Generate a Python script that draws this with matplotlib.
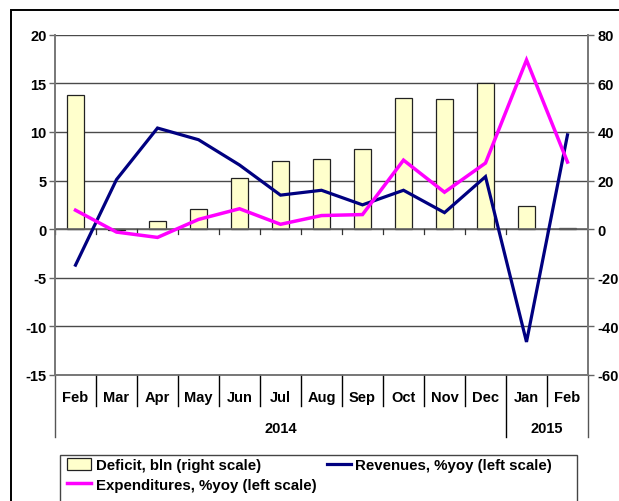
import matplotlib
matplotlib.use("Agg")
import matplotlib.pyplot as plt
import matplotlib.transforms as mtransforms
from matplotlib.patches import Rectangle
from matplotlib.lines import Line2D

plt.rcParams['font.family'] = ['Liberation Sans', 'DejaVu Sans']
plt.rcParams['font.weight'] = 'bold'

months = ["Feb", "Mar", "Apr", "May", "Jun", "Jul", "Aug", "Sep", "Oct", "Nov", "Dec", "Jan", "Feb"]
years = ["2014", "2015"]
year_spans = [(0, 10), (11, 12)]
deficit = [55.0, -0.4, 3.3, 8.2, 20.9, 28.1, 29.0, 33.1, 53.9, 53.5, 60.2, 9.6, 0.4]
revenues = [-3.7, 5.1, 10.4, 9.2, 6.6, 3.5, 4.0, 2.5, 4.0, 1.7, 5.4, -11.6, 9.7]
expenditures = [1.95, -0.3, -0.85, 1.0, 2.1, 0.5, 1.4, 1.5, 7.1, 3.8, 6.8, 17.4, 6.9]
left_ticks = [-15, -10, -5, 0, 5, 10, 15, 20]
right_ticks = [-60, -40, -20, 0, 20, 40, 60, 80]

W, H = 619, 502
fig = plt.figure(figsize=(W / 100, H / 100), dpi=100)

x0, x1, ytop, ybot = 55, 588, 35.7, 376
ax2 = fig.add_axes([x0 / W, 1 - ybot / H, (x1 - x0) / W, (ybot - ytop) / H])
ax = ax2.twinx()
ax.yaxis.tick_left()
ax2.yaxis.tick_right()
ax.set_zorder(ax2.get_zorder() + 1)
ax.patch.set_visible(False)

n = len(months)
xs = list(range(n))

# gridlines (behind bars) on ax2
ax2.set_ylim(-60, 80)
ax2.set_xlim(-0.5, n - 0.5)
for t in right_ticks:
    ax2.axhline(t, color='#4a4a4a', lw=1.0, zorder=0)
ax2.bar(xs, deficit, width=0.42, color='#FFFFCC', edgecolor='#222222', lw=0.9, zorder=2)
# zero axis with small category ticks
ax2.axhline(0, color='#666666', lw=1.2, zorder=3)
for b in range(n + 1):
    ax2.plot([b - 0.5, b - 0.5], [0, -2.0], color='#333333', lw=0.9, zorder=3)

ax.set_ylim(-15, 20)
ax.set_xlim(-0.5, n - 0.5)
ax.plot(xs, revenues, color='#000080', lw=2.3, solid_joinstyle='miter', zorder=5)
ax.plot(xs, expenditures, color='#FF00FF', lw=2.5, solid_joinstyle='miter', zorder=6)

ax.set_yticks(left_ticks)
ax.set_yticklabels([str(t) for t in left_ticks])
ax2.set_yticks(right_ticks)
ax2.set_yticklabels([str(t) for t in right_ticks])
ax.tick_params(axis='y', direction='out', length=4, width=1, color='#666666', labelsize=10.5, pad=2)
ax2.tick_params(axis='y', direction='out', length=4, width=1, color='#666666', labelsize=10.5, pad=3)
ax.set_xticks([])
ax2.set_xticks([])
for a in (ax, ax2):
    for s in a.spines.values():
        s.set_color('#777777')
        s.set_linewidth(1.2)
    a.spines['top'].set_visible(False)

# category labels below axis
trans = mtransforms.blended_transform_factory(ax.transData, ax.transAxes)
hpx = ybot - ytop
m_end = -(407 - ybot) / hpx
y_end = -(438 - ybot) / hpx
m_lab = -(398 - ybot) / hpx
y_lab = -(429 - ybot) / hpx
year_bounds = {-0.5, n - 0.5}
for s, e in year_spans:
    year_bounds.add(s - 0.5)
    year_bounds.add(e + 0.5)
for b in range(n + 1):
    bx = b - 0.5
    yend = y_end if bx in year_bounds else m_end
    col = '#555555' if bx in (-0.5, n - 0.5) else 'black'
    ax.plot([bx, bx], [0, yend], transform=trans, clip_on=False, color=col, lw=1.0)
for i, m in enumerate(months):
    ax.text(i, m_lab, m, transform=trans, ha='center', va='center', fontsize=10.5, fontweight='bold')
for (s, e), yr in zip(year_spans, years):
    ax.text((s + e) / 2, y_lab, yr, transform=trans, ha='center', va='center', fontsize=10.5, fontweight='bold')

# legend
lx0, lx1, ly0 = 60, 577, 456
fig.patches.append(Rectangle((lx0 / W, -0.05), (lx1 - lx0) / W, 1 - ly0 / H + 0.05,
                             transform=fig.transFigure, fill=False, edgecolor='#444444', lw=1.0))
handles = [Rectangle((0, 0), 1, 1, facecolor='#FFFFCC', edgecolor='#222222', lw=0.9),
           Line2D([], [], color='#FF00FF', lw=2.5),
           Line2D([], [], color='#000080', lw=2.3)]
labels = ["Deficit, bln (right scale)", "Expenditures, %yoy (left scale)", "Revenues, %yoy (left scale)"]
fig.legend(handles, labels, ncol=2, loc='upper left', bbox_to_anchor=(67 / W, 1 - 459 / H),
           frameon=False, prop={'weight': 'bold', 'size': 10.8}, handlelength=1.6,
           handleheight=0.85, handletextpad=0.3, columnspacing=0.7, labelspacing=0.35, borderpad=0.0,
           borderaxespad=0)

# outer frame (extends beyond the right and bottom edges)
fig.patches.append(Rectangle((11 / W, -0.05), (640 - 11) / W, 1 - 11 / H + 0.05,
                             transform=fig.transFigure, fill=False, edgecolor='black', lw=1.4))

fig.savefig("out.png", dpi=100)
